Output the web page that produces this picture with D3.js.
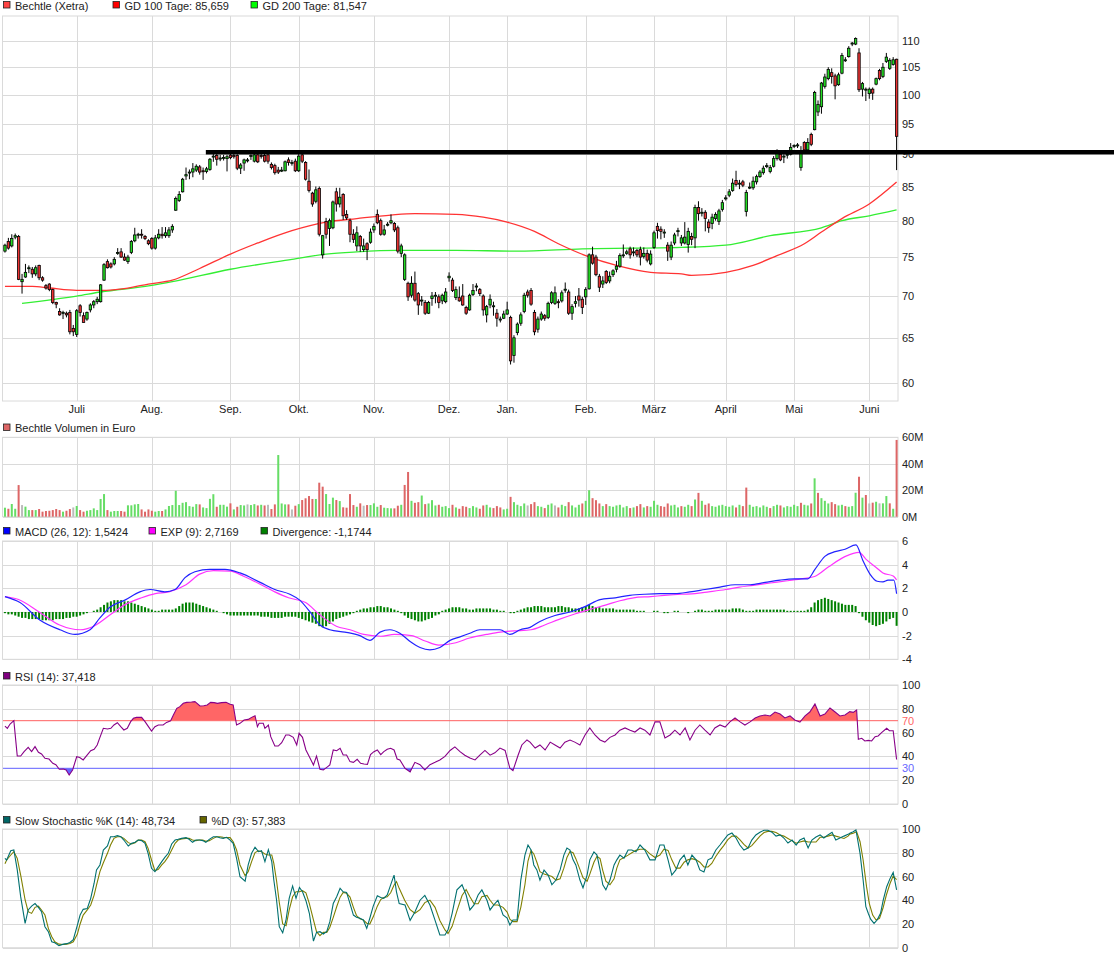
<!DOCTYPE html>
<html lang="de">
<head>
<meta charset="UTF-8">
<title>Bechtle (Xetra)</title>
<script src="https://d3js.org/d3.v7.min.js"></script>
<style>
  body { margin: 0; background: #fff; }
  svg text { font-family: "Liberation Sans", Arial, sans-serif; font-size: 11px; fill: #222; }
</style>
</head>
<body>
<div id="chart"></div>
<script>
// --- daily candles (trading day index 0..261, Juni 2018 - Juni 2019) ---
const opens = [
  75.8,77.1,76.5,77.7,77.8,71.8,72.4,73.5,73.4,72.8,
  73.9,72.3,71.3,71.5,70.8,69.2,68.1,67.9,67.9,68.0,
  66.1,65.4,68.8,67.6,67.2,68.3,68.9,69.3,69.3,72.0,
  74.4,74.1,74.1,75.5,75.7,75.0,74.4,75.6,77.2,78.0,
  78.1,77.8,77.2,77.5,76.2,77.6,78.1,77.9,77.9,78.7,
  81.5,82.9,84.2,86.6,87.1,87.2,87.5,88.0,87.4,87.3,
  87.6,89.6,89.8,89.3,89.4,89.3,89.85,89.8,89.8,87.8,
  88.6,89.1,89.7,88.9,89.9,89.8,89.8,89.9,88.4,88.2,
  87.5,87.4,87.4,89.1,88.6,88.9,87.4,89.9,88.7,85.8,
  84.0,82.8,84.7,75.3,79.9,78.9,79.0,84.2,82.4,83.8,
  80.9,80.0,78.1,76.5,77.8,76.0,76.8,77.0,78.7,80.9,
  80.0,78.1,79.4,79.7,79.6,79.0,75.5,72.1,71.6,70.1,
  71.6,70.3,69.4,69.2,67.9,69.7,70.0,69.9,69.4,69.3,
  72.3,72.0,69.8,69.8,70.0,68.6,68.3,70.2,71.15,70.8,
  70.0,67.7,68.9,68.7,67.9,67.1,67.3,67.8,67.4,63.0,
  65.6,66.7,68.1,70.5,70.7,68.0,66.0,67.2,67.6,67.4,
  69.2,69.1,69.3,69.4,70.75,70.5,67.9,69.1,70.0,69.6,
  69.9,70.9,75.3,75.0,72.5,71.5,73.1,71.9,72.7,73.4,
  73.8,75.2,75.5,76.1,75.6,75.9,76.0,75.1,75.5,74.1,
  76.3,79.2,78.8,78.3,76.6,75.0,76.9,78.5,76.9,76.9,
  76.7,77.8,77.6,81.9,81.1,81.2,79.8,79.6,80.3,79.9,
  81.6,83.2,83.7,84.4,85.9,85.4,85.7,81.3,84.8,84.8,
  85.7,86.5,87.1,88.1,87.3,88.1,89.3,90.0,89.6,89.9,
  90.0,91.3,91.4,87.9,91.9,90.7,93.2,94.0,97.0,97.9,
  101.5,102.9,104.0,103.4,101.8,103.9,106.3,107.0,109.5,109.4,
  107.7,101.0,100.9,100.2,101.0,101.9,104.4,103.3,106.1,104.8,105.5,106.5
];
const highs = [
  76.8,77.6,78.1,78.2,78.0,72.8,74.1,73.9,73.7,73.9,
  74.0,72.5,71.5,71.6,70.9,69.3,68.5,68.2,68.1,68.3,
  66.5,68.4,69.0,68.0,68.1,69.1,69.5,69.9,71.5,74.2,
  74.7,74.3,75.0,76.2,76.2,75.5,75.3,77.3,79.0,78.3,
  78.8,78.0,77.4,77.7,78.0,78.8,79.1,79.1,79.1,79.5,
  83.5,84.3,86.3,87.9,87.6,88.6,88.4,88.3,87.9,88.0,
  89.4,90.2,90.2,89.9,89.9,89.9,90.1,90.1,90.0,88.6,
  89.3,89.4,90.0,90.1,90.1,90.1,90.1,90.1,88.7,88.5,
  88.0,88.0,89.0,89.5,89.1,89.3,90.2,90.5,88.9,87.6,
  84.2,85.0,85.0,78.0,80.4,80.3,82.9,84.8,84.8,84.0,
  81.5,80.3,78.8,79.2,78.0,77.5,77.0,78.9,79.6,81.6,
  80.3,79.4,79.8,80.9,79.8,79.3,76.8,75.5,71.8,72.5,
  73.1,70.5,70.0,69.5,69.4,70.5,70.5,70.2,70.3,71.0,
  73.0,72.3,71.2,71.2,71.5,68.8,70.3,71.5,71.6,71.0,
  70.2,68.9,70.2,69.3,68.4,67.5,68.2,69.3,67.6,65.3,
  66.8,68.0,70.4,70.8,71.0,68.3,67.5,68.1,67.8,69.3,
  70.6,71.2,69.6,70.7,71.7,70.8,69.0,70.0,71.0,69.9,
  71.1,75.5,76.4,75.3,72.8,72.5,73.3,73.1,73.4,74.5,
  75.5,76.7,76.0,76.4,76.3,76.1,76.4,76.3,76.0,75.9,
  78.6,79.7,79.2,78.8,77.0,77.1,78.3,79.0,78.0,79.8,
  79.0,78.3,82.3,82.8,81.8,81.5,80.2,81.0,81.2,81.7,
  83.0,83.7,84.6,86.2,87.4,86.0,86.0,84.5,85.6,86.5,
  86.8,87.5,88.2,88.6,88.3,89.7,90.8,90.3,90.0,90.4,
  91.8,91.6,91.8,91.3,92.1,92.6,93.5,100.7,99.0,102.3,
  103.8,105.0,104.8,103.8,104.0,107.7,106.9,109.0,109.8,110.7,
  108.6,102.3,101.3,101.3,101.3,103.1,104.7,105.8,107.7,106.7,106.9,106.6
];
const lows = [
  75.6,76.0,76.3,77.4,72.0,70.3,72.3,72.9,72.3,72.5,
  72.0,71.8,70.8,70.6,69.0,68.5,67.6,67.2,67.4,65.4,
  65.2,65.1,67.5,66.8,67.0,68.0,68.5,69.0,69.2,71.9,
  73.5,73.5,73.9,75.3,74.9,74.5,74.1,75.4,77.0,77.5,
  77.5,77.3,76.6,76.0,76.0,77.4,77.5,77.6,77.6,78.3,
  81.4,82.7,84.1,86.0,86.1,86.4,87.2,86.8,86.0,87.0,
  87.4,88.8,88.2,88.9,89.0,87.3,89.2,89.3,87.5,86.9,
  87.4,88.7,89.1,88.7,88.6,89.3,88.7,88.5,87.6,86.8,
  86.9,87.2,87.3,88.2,88.2,87.2,87.2,88.6,85.9,84.1,
  82.0,82.5,77.8,74.8,77.5,76.5,78.8,81.3,81.9,80.1,
  80.1,77.0,76.9,75.8,75.7,75.7,74.6,76.8,78.3,79.5,
  77.9,77.9,79.2,79.5,78.4,75.5,75.0,71.9,69.4,69.8,
  69.3,67.7,68.8,67.7,67.8,68.8,69.1,68.5,69.0,69.1,
  71.8,70.5,69.5,69.3,68.8,67.7,68.2,70.0,70.6,70.0,
  67.6,66.8,68.5,67.6,66.3,66.8,67.2,67.7,62.0,62.2,
  65.3,66.4,67.9,69.8,68.8,65.3,65.6,67.0,67.0,67.2,
  69.0,68.9,68.5,69.2,70.4,67.7,67.1,68.6,68.7,67.8,
  68.9,70.8,74.0,72.5,70.5,71.0,71.5,71.6,72.4,73.0,
  73.6,74.9,75.3,74.8,75.1,75.0,73.9,74.8,74.3,73.9,
  76.1,77.5,77.4,77.6,74.5,74.6,76.6,77.8,76.5,76.7,
  75.6,76.6,76.2,80.0,80.6,78.5,78.3,78.8,80.0,79.4,
  81.3,82.9,83.4,84.2,85.0,84.6,84.9,80.6,84.6,84.5,
  85.3,86.3,86.8,87.8,87.0,87.9,89.0,88.9,88.6,89.3,
  89.8,91.0,91.0,87.4,90.3,90.5,91.3,93.9,96.3,96.7,
  101.1,102.6,102.0,99.2,101.6,103.7,106.0,106.8,109.0,109.2,
  100.5,99.7,98.9,99.3,99.1,101.7,102.6,103.0,105.8,104.5,105.3,87.5
];
const closes = [
  76.6,76.2,77.5,77.9,72.1,72.1,73.0,73.6,72.8,73.6,
  72.3,72.0,71.0,70.8,69.2,69.0,67.7,68.0,67.7,65.7,
  65.7,68.2,68.0,66.8,68.0,68.9,69.3,69.6,71.4,74.0,
  73.6,73.7,74.7,75.6,75.0,74.6,75.0,77.1,78.0,78.1,
  78.0,77.5,76.8,76.2,77.6,78.1,77.9,78.3,78.7,79.2,
  83.2,83.8,86.1,86.8,87.2,87.7,88.1,87.2,87.3,87.7,
  89.2,89.7,89.2,89.4,89.5,89.6,89.45,89.6,87.8,88.3,
  89.1,89.1,89.8,89.9,88.8,89.7,88.9,88.9,87.9,87.1,
  87.2,87.5,88.8,88.7,88.7,87.4,89.7,88.9,86.1,84.4,
  82.4,84.5,78.1,77.9,78.1,80.0,82.7,82.4,83.4,80.7,
  80.4,78.1,77.4,78.3,76.5,76.5,76.0,78.4,79.2,79.7,
  78.1,78.7,79.5,80.0,78.7,75.8,76.5,75.3,69.9,71.6,
  69.5,68.9,69.5,67.9,69.2,70.0,70.1,69.2,70.1,70.5,
  72.5,70.7,70.8,69.4,68.9,67.9,70.1,70.7,71.25,70.3,
  68.3,68.7,69.6,68.8,67.3,67.2,67.8,68.3,62.4,65.0,
  66.6,67.7,70.1,70.1,69.0,65.7,67.2,67.8,67.3,69.1,
  70.4,70.4,69.2,70.4,70.85,67.9,68.7,69.3,69.5,68.6,
  70.8,75.3,74.2,72.7,71.1,71.9,71.7,72.5,73.2,73.8,
  75.2,75.3,75.7,75.3,75.7,75.3,75.0,75.5,74.6,75.4,
  78.3,78.6,78.5,78.4,75.8,76.6,78.0,78.6,77.6,77.7,
  78.5,77.4,81.9,81.0,81.2,80.3,79.0,80.5,80.9,81.4,
  82.6,83.3,84.2,85.5,85.3,85.5,85.2,84.1,84.9,85.8,
  86.5,87.2,87.8,88.2,87.9,89.3,90.1,89.1,89.7,90.0,
  91.1,91.4,91.5,90.4,90.7,91.9,91.6,100.4,98.3,102.1,
  103.2,104.6,103.3,101.6,103.6,107.2,106.4,108.6,109.6,110.5,
  100.9,102.0,101.0,101.0,100.3,102.9,102.9,105.0,106.9,106.3,106.4,92.9
];
// volume in million euro
const volumes = [
  6.8,6.0,9.6,6.0,23.9,8.8,7.6,5.0,5.0,5.0,
  5.8,3.8,4.3,4.5,5.0,5.8,5.0,3.8,4.5,5.8,
  7.0,8.1,5.0,3.8,4.5,5.0,6.3,5.0,13.4,17.1,
  5.0,3.8,4.3,4.3,4.3,3.8,8.6,8.6,9.3,9.6,
  5.5,3.8,5.5,4.5,3.8,4.3,4.3,5.5,8.1,8.8,
  19.6,8.8,10.5,11.0,8.0,7.5,9.5,9.3,7.0,6.5,
  13.5,17.0,7.5,9.0,9.0,7.6,10.1,5.5,7.5,8.8,
  8.5,9.3,8.8,9.5,8.5,9.0,8.5,9.0,5.8,9.3,
  46.6,10.0,9.3,9.3,5.5,8.3,9.5,12.6,13.9,15.6,
  13.4,13.4,25.7,22.7,17.1,9.6,14.4,12.6,11.8,7.1,
  6.8,17.1,8.8,7.5,10.1,8.3,8.8,8.8,10.1,7.5,
  8.8,6.8,6.5,6.3,6.3,8.3,9.0,24.0,33.8,12.0,
  10.5,11.0,16.0,9.5,10.0,12.5,8.5,9.0,7.5,8.0,
  6.5,9.0,7.0,6.0,8.0,7.5,6.5,8.0,7.0,6.0,
  8.5,9.0,7.0,6.5,8.0,7.0,5.5,6.0,15.0,11.0,
  9.0,8.0,10.0,8.5,9.5,11.0,8.0,7.5,6.5,9.0,
  10.0,8.5,7.0,9.0,8.0,11.0,8.5,7.0,9.0,10.0,
  12.0,20.0,14.0,12.5,10.0,8.0,9.5,8.0,7.5,8.5,
  9.0,7.0,8.0,6.5,7.0,8.0,9.5,7.0,8.0,7.5,
  12.0,9.0,8.0,7.5,10.0,8.5,9.0,7.0,8.0,7.5,
  9.0,8.0,13.0,18.0,12.0,9.0,10.0,8.0,7.5,8.5,
  9.0,8.0,7.5,8.5,7.0,9.0,8.0,22.0,9.0,7.5,
  8.0,7.0,8.5,7.5,6.5,8.0,9.0,8.5,7.0,8.0,
  7.5,9.0,8.0,10.5,9.0,8.5,10.0,29.0,18.0,14.0,
  12.0,10.0,11.0,9.5,8.5,9.0,8.0,7.5,8.0,18.1,
  30.2,14.4,16.4,10.0,10.6,11.3,10.1,10.1,15.6,10.1,6.0,58.0
];

// moving averages, read at sample days
const gd100Days = [0,8,13,21,28,36,42,49,57,66,74,84,94,103,113,120,132,140,147,155,162,170,179,189,198,201,211,219,226,234,239,245,253,261];
const gd100Vals = [71.2,71.2,71.0,70.7,70.7,71.0,71.5,72.0,73.5,75.4,76.9,78.6,79.8,80.3,80.8,81.0,80.9,80.5,79.8,78.5,76.8,75.2,73.9,73.0,72.8,72.6,73.0,73.9,75.2,76.8,78.4,80.3,82.4,85.66];
const gd200Days = [5,21,28,42.5,49,66,84,94,103,115,132,150,169,198,211,224,239,245,253,261];
const gd200Vals = [69.1,70.0,70.5,71.3,71.8,73.4,74.7,75.4,75.7,75.9,75.9,75.8,76.1,76.3,76.6,77.9,79.0,80.0,80.7,81.55];

// MACD panel
const macdDays = [0,4.4,10.3,16.1,20.5,24.9,27.8,30.7,35.1,39.5,42.5,46.8,49.8,52.7,55.6,60,64.4,68.8,74.7,79,83.4,86.3,89.3,92.2,95.1,99.5,103.9,106.8,109.8,112.7,115.6,118.6,121.5,124.4,127.3,130.3,133.2,136.1,139,142,144.9,147.8,150.8,153.7,156.6,161,165.4,169.8,174.2,178.6,182.9,187.3,191.7,196.1,200.5,204.9,209.3,213.7,218.1,222.5,226.9,231.2,235,237.1,240,243,245.9,249.1,251.2,253.2,255.3,257,258.5,260.2,261];
const macdVals = [1.3,0.8,-0.7,-1.5,-1.9,-1.5,-0.5,0.4,1.0,1.7,1.9,1.7,1.9,2.9,3.4,3.6,3.6,3.3,2.5,1.9,1.5,1.0,0,-1.1,-1.5,-1.7,-2.0,-2.4,-1.7,-1.5,-1.8,-2.5,-3.0,-3.2,-3.0,-2.4,-2.1,-1.8,-1.5,-1.5,-1.5,-1.9,-1.5,-1.3,-0.8,-0.3,0,0.45,1.05,1.2,1.4,1.5,1.55,1.55,1.7,1.9,2.1,2.3,2.3,2.5,2.7,2.8,2.8,3.6,4.7,5.1,5.3,5.67,4.3,3.2,2.6,2.55,2.7,2.7,1.54];
const expDays = [0,4,10,16,22,26,31,35,40,44,48,53,57,61,66,70,75,79,83,88,92,97,101,105,110,114,119,123,127,132,136,141,145,149,154,158,162,167,171,176,180,184,189,193,198,202,206,211,215,219,224,228,233,237,241,246,250,252,255,257,260,261];
const expVals = [1.3,1.05,0,-1.1,-1.5,-1.2,-0.2,0.6,1.2,1.55,1.7,2.3,3.2,3.5,3.45,3.0,2.3,1.7,1.2,0.8,-0.2,-1.2,-1.5,-1.9,-2.05,-1.9,-2.0,-2.45,-2.8,-2.6,-2.2,-1.9,-1.7,-1.6,-1.5,-1.1,-0.65,-0.15,0.2,0.6,0.95,1.2,1.3,1.4,1.5,1.55,1.7,1.9,2.1,2.25,2.45,2.6,2.8,3.0,3.8,4.7,5.04,4.47,3.76,3.3,3.04,2.72];
const divergence = [
  -0.1,-0.2,-0.2,-0.3,-0.4,-0.5,-0.5,-0.6,-0.6,-0.6,-0.6,
  -0.7,-0.7,-0.7,-0.7,-0.6,-0.6,-0.6,-0.5,-0.5,-0.4,
  -0.4,-0.3,-0.2,-0.1,0,0.1,0.2,
  0.4,0.6,0.8,0.9,1.0,1.0,1.0,0.9,0.9,0.8,0.7,0.6,0.5,
  0.4,0.3,0.2,0.1,0.1,0.2,0.2,0.2,0.2,0.3,
  0.5,0.7,0.8,0.8,0.8,0.7,0.6,0.5,0.4,0.3,
  0.2,0.1,0,-0.1,-0.2,-0.3,
  -0.3,-0.3,-0.3,-0.3,-0.3,-0.3,-0.3,-0.3,-0.4,-0.4,-0.4,-0.5,-0.5,-0.5,-0.5,-0.4,-0.4,-0.4,-0.4,-0.5,
  -0.6,-0.7,-0.8,-0.9,-1.0,-1.2,-1.3,-1.2,-1.0,-0.8,-0.6,
  -0.5,-0.4,-0.3,-0.2,-0.1,0.1,0.2,0.3,0.3,0.4,0.4,
  0.5,0.5,0.4,0.4,0.3,0.2,0.1,
  -0.1,-0.3,-0.5,-0.6,-0.7,-0.8,-0.8,-0.7,-0.6,-0.5,-0.3,-0.2,
  0.1,0.2,0.3,0.4,0.4,0.4,0.3,0.3,0.2,0.2,0.3,0.3,0.3,
  0.3,0.3,0.2,0.2,0.1,0.1,0,-0.1,-0.1,
  0.1,0.2,0.3,0.4,0.4,0.5,0.5,0.5,0.4,0.4,0.4,0.4,0.5,0.5,0.4,0.4,0.3,0.3,0.3,0.4,0.5,0.6,0.5,0.4,0.4,0.3,
  0.3,0.3,0.3,0.2,0.2,0.2,0.2,0.2,0.2,0.1,0.1,0.1,0.0,0.0,0.1,
  0.1,0.0,-0.1,-0.1,0.0,0.1,0.1,0.0,0.0,-0.1,0.0,0.1,0.2,0.2,0.1,
  0.1,0.1,0.2,0.2,0.2,0.2,0.2,0.3,0.3,0.3,0.2,0.1,0.1,0.1,0.2,0.2,0.2,0.2,0.2,0.2,0.2,0.2,0.2,0.1,0.1,0.1,0.1,0.1,0.1,0.2,
  0.4,0.8,1.0,1.1,1.2,1.1,1.0,0.9,0.8,0.7,0.6,
  0.6,0.6,0.5,-0.1,-0.4,-0.7,-0.9,-1.1,-1.2,-1.1,-1.0,-0.8,-0.6,-0.5,-1.17
];

// RSI (14)
const rsiDays = [0,0.7,1.5,2.6,3.6,4.6,5.6,6.8,7.8,8.8,9.8,10.7,11.7,12.9,14,14.9,15.9,17.1,17.9,18.8,19.8,21,21.9,22.9,24.1,25.1,26.1,27,27.8,28.8,30,31,31.9,32.9,33.9,34.8,35.8,36.8,37.6,38.5,40,41,42,42.9,43.9,44.9,46.3,47.3,48.5,49.3,50.3,51.2,52.2,53.2,54.6,55.6,57.1,58.2,59.2,60.2,61.2,62.2,63.4,64.7,65.9,66.8,67.8,68.8,70,71.2,72.2,73.2,73.9,74.4,75.6,76.1,77.1,77.8,79,80,81,82.2,83.2,84.4,85.4,86.1,87.1,88.1,89.1,90.3,91.2,92.2,93.2,94.2,95.1,96.1,97.1,98.1,99,100,101,102,103.1,104.1,105.1,106.1,107,108,109,110,110.9,111.9,112.9,113.9,114.8,
  115.6,117.1,118.6,120,121.5,122.9,124.4,125.9,127.3,128.8,130.3,131.7,133.2,134.6,136.1,137.6,139,140.5,142,143.4,144.9,146.4,147.8,148.7,150.2,151.3,152.8,153.7,155.2,156.6,158.1,159.6,161,162.5,163.9,165.4,166.8,168.3,169.8,171.2,172.7,174.2,175.6,177.1,178.6,180,181.5,183,184.4,185.9,187.3,188.8,190.3,191.7,193.2,194.7,196.1,197.6,199.1,200.5,202,203.4,204.9,206.4,207.8,209.3,210.8,212.2,213.7,215.2,216.6,218.1,219.6,221,222.5,224,225.4,226.9,228.3,229.8,231.2,232.7,234.2,235.6,237.1,238.6,240,241.5,243,244.4,245.9,247.3,248.3,249.3,249.8,250.8,251.7,252.7,253.7,254.7,255.6,256.6,258.1,258.9,260,261];
const rsiVals = [65.5,63.6,67.2,70,40.3,40.3,44,47.6,44,48.2,43.4,42,38.4,37.8,34.2,33,29.2,29.4,28.6,24.4,28.6,39.7,39.1,37,41.2,44.8,46,49.6,56,63.6,63,63.6,66.4,68.3,65,62.2,63.6,69.2,72,72.8,72.8,69.2,65,61.3,65,66.4,66.4,68.6,70,74.8,80.4,81.8,84.6,85.4,85.7,86,82.4,82.6,83.2,85.4,85.2,84.6,85.2,85.4,83.8,83.2,66.4,67.8,70.6,71.1,72.8,74.2,65,67.8,67.8,63.6,66.4,56.6,48.7,48.7,51.5,58,58,56,49.6,59.4,56,45.4,39.7,32.8,40.3,29.2,28.6,30.8,32.8,45.4,44.8,46.8,41.2,41.2,35.6,35,37.5,34.2,33.6,33.3,41.5,44,45.4,41.5,44,46,46.8,45.4,37.8,
  37,30,27,35,33,28.6,33,35,37,40,45,48,44,41,38.6,37,41,45,41,43,47,45,30,28,41,49.6,53.8,52,47,49.6,45.4,52,49.6,47,52,53.8,52,49.6,58,63.9,58,53.8,52,56,58,62,63.9,62,60.5,63.9,62,58,69,69,55.5,58,62,58,63.9,53.8,62,66.4,62,58,63.9,66.4,64.7,69,72.3,69,66.4,69,72.3,74,74.8,74,77.3,75.6,72.3,74,70.6,68.9,74,77.3,84,74,75.6,80.7,77.3,74,74.8,77.6,77,79,54.4,55.2,53,53.5,53,56.6,57.2,60,63.6,61.6,61.6,37.4];

// Slow Stochastic %K (14) and %D (3)
const kDays = [0,0.5,1.7,2.6,3.6,4.6,5.9,6.8,7.8,8.8,9.8,10.7,11.7,12.7,13.7,14.6,15.8,17.1,18.1,19,20,21.2,22,22.9,24.1,25.1,26.1,26.8,27.8,28.8,30,30.9,31.9,32.9,33.9,34.8,36.1,37.1,38.1,39,40,41,41.9,42.9,43.9,44.9,45.9,46.8,47.8,48.8,49.8,50.7,51.7,53,53.9,54.9,55.9,56.9,57.9,58.8,59.8,61,62,62.9,63.9,64.9,65.9,66.8,67.8,68.8,70.3,71.2,72.2,73.2,74.2,75.1,76.1,77.1,78.1,78.7,79.5,80.3,81.3,82.3,83.2,84.2,85.2,86.2,87.1,88.1,89.1,90.3,91.2,92.2,93.2,94.2,95.1,96.1,97.1,98.1,99,100,101,102,102.9,103.9,104.9,105.9,106.8,107.8,109,110,110.9,111.9,112.9,113.9,114.6,115.4,
  117.1,118.6,120,121.5,122.9,124.4,125.9,127.3,128.8,129.7,130.9,132.3,133.8,135,136.1,137.3,138.5,139.6,141.1,142,143.1,144.3,145.8,147,147.8,148.7,149.9,151,152.2,153.1,154,154.8,155.7,156.6,157.8,159,160.1,161.3,162.5,163.6,164.5,165.4,166.3,167.1,168.3,169.2,170.4,171.2,172.4,173.3,174.2,175,175.9,177.1,178.3,179.1,180,181.2,182.4,183.5,184.7,185.9,187.3,188.8,190.3,191.7,192.9,194.1,195.2,196.4,197.6,198.8,199.9,201.1,202.3,203.4,204.6,205.8,206.9,208.1,209.3,210.4,211.6,212.8,214,215.1,216.3,217.5,218.6,219.8,221,222.2,223.3,224.5,225.7,226.9,228,229.2,230.4,231.6,232.7,233.9,235.1,236.2,237.4,238.6,239.7,240.9,242.1,243.2,244.4,245.6,246.8,247.3,248.3,249.1,250.3,251.2,252,252.7,253.4,254.4,255.3,256.3,257.1,258.1,259.1,260,261];
const kVals = [75.3,73.9,81.7,82.3,65.5,43,20.5,31.8,35,37.2,34,30.3,17.7,13.5,5,4.2,1.7,3,3.4,4.4,6.7,19.1,27.5,32.3,33,41.6,54.3,65.5,69.7,82.3,85.7,93.5,93.5,94.4,93.5,90.7,85.7,87.9,88.8,90.7,90.2,87.9,79.5,66.9,64.1,68.3,72.5,76.1,79.5,87.4,90.7,91.3,92.1,92.7,91.3,88.8,90.7,90.7,90.2,88.8,91.3,93.5,93.5,92.7,92.1,93,90.7,87.9,75.3,59.8,56.1,69.7,79.5,84.6,80.9,81.7,72.5,82.6,72.5,57,40.2,17.7,12.6,23.9,41.6,52,41.6,50.8,47.1,39.6,29,5.6,12.9,13.5,11.5,13.8,21.9,37.2,42.9,50,47.1,46.6,37.2,27.5,25.6,24.8,23.4,16.3,24.8,35,43.7,42.3,41.6,44.4,52.9,61.2,47.1,37.2,
  36,23,30,40,44,36,23,10.7,10.7,15,29,48.7,53,44.4,31.8,36,44.4,48.7,40,31.8,36,40,27.6,25,19.1,23.3,23.3,57,78,86.5,82.3,69.7,65.5,57,65.5,61.2,53,57,65.5,78,84,82.3,74,69.7,57,50.5,61.2,74,80.7,78,65.5,53,48.7,57,69.7,74,78,75.5,82.3,82.3,80.7,86.5,82.3,74,74,86.5,86.5,74,61.2,65.5,74,78,69.7,78,74,65.5,63.8,74,75.5,82.3,86.5,90.7,95,96.6,92.4,86.5,82.3,84,90.7,95,97.3,99,99,97.3,94,95,92.4,88.2,90.7,86.5,90.7,92.4,84,90.7,93.2,95,92.4,95,97.3,90.7,92.4,94,95.5,96.4,97.7,99.2,79.5,57,34.5,29,24,20.5,23.3,29,40.2,51.4,58.4,63.5,48.7];
const dDays = [0,0.5,1.7,2.6,3.6,4.6,5.9,6.8,7.8,8.8,9.8,10.7,11.7,12.7,13.7,14.6,15.8,17.1,18.1,19,20,21.2,22,22.9,24.1,25.1,26.1,26.8,27.8,28.8,30,30.9,31.9,32.9,33.9,34.8,36.1,37.1,38.1,39,40,41,41.9,42.9,43.9,44.9,45.9,46.8,47.8,48.8,49.8,50.7,51.7,53,53.9,54.9,55.9,56.9,57.9,58.8,59.8,61,62,62.9,63.9,64.9,65.9,66.8,67.8,68.8,70.3,71.2,72.2,73.2,74.2,75.1,76.1,77.1,78.1,78.7,79.5,80.3,81.3,82.3,83.2,84.2,85.2,86.2,87.1,88.1,89.1,90.3,91.2,92.2,93.2,94.2,95.1,96.1,97.1,98.1,99,100,101,102,102.9,103.9,104.9,105.9,106.8,107.8,109,110,110.9,111.9,112.9,113.9,114.6,115.4,
  117,118.6,120,121.5,122.9,124.4,125.9,127.3,128.8,129.7,130.9,132.3,133.8,135,136.1,137.3,138.5,139.6,141.1,142,143.1,144.3,145.8,147,147.8,148.7,149.9,151,152.2,153.1,154,154.8,155.7,156.6,157.8,159,160.1,161.3,162.5,163.6,164.5,165.4,166.3,167.1,168.3,169.2,170.4,171.2,172.4,173.3,174.2,175,175.9,177.1,178.3,179.1,180,181.2,182.4,183.5,184.7,185.9,187.3,188.8,190.3,191.7,192.9,194.1,195.2,196.4,197.6,198.8,199.9,201.1,202.3,203.4,204.6,205.8,206.9,208.1,209.3,210.4,211.6,212.8,214,215.1,216.3,217.5,218.6,219.8,221,222.2,223.3,224.5,225.7,226.9,228,229.2,230.4,231.6,232.7,233.9,235.1,236.2,237.4,238.6,239.7,240.9,242.1,243.2,244.4,245.6,246.8,247.3,248.3,249.3,250.3,251.2,252.2,253,254,255,256,257,258,259.1,260,261];
const dVals = [70.8,73.9,78.1,80.9,75.3,61.2,40.2,30.3,28.9,34,35,31.8,27.5,16.3,9.3,5,3,2.7,3,3.6,5,11.5,20,27.5,31.8,36,44.3,52.7,64.1,71.6,79.5,86.5,92.1,93.5,93.5,92.1,88.5,87.4,88.5,90.7,90.7,89.3,83.7,73.9,64.9,66,69.7,72.5,76.7,82.3,87.9,90.7,91.6,92.1,92.1,90.7,90.2,90.7,90.7,89.6,90.2,92.1,93.5,93.5,93,92.7,92.7,89.3,82.3,69.7,60.7,64.1,72.5,80.1,81.7,80.9,78.9,78.1,78.1,71,56.4,38.1,20,18.6,31.8,42.9,47.1,47.1,48,46.3,37.2,23.4,13.5,10.2,12.9,12.9,17.2,25.6,34.5,42.6,46.6,45.8,42.6,34,27.1,24.4,23.4,20.6,19.9,26,35,40.6,42.3,42.9,46.3,52.9,55.7,50,
  40,32,29,32,38,40,34,23,15,12,18,31,44,49,43,37,37,43,44,40,36,36,34,30,24,22,22,34,53,73,82,79,72,64,62,61,60,57,58,67,76,81,80,75,66,59,56,62,72,77,75,65,56,53,58,67,74,76,78,80,82,83,83,79,76,78,83,82,74,67,67,72,74,75,74,72,68,68,71,77,82,86,91,94,94,91,87,84,86,90,94,97,98,98,97,95,94,92,90,88,89,90,89,89,89,93,93,94,95,94,93,92,94,95.7,96.4,97.7,89.3,73.9,51.4,37.4,27.5,23.3,24.8,33.2,44.4,54.3,60.4,57.4];

// axes / annotations
const monthTicks = [21,43,66,86,108,130,147,170,190,211,231,253];
const monthLabels = ["Juli","Aug.","Sep.","Okt.","Nov.","Dez.","Jan.","Feb.","März","April","Mai","Juni"];
const priceTicks = [60,65,70,75,80,85,90,95,100,105,110];
const volTicks = [0,20,40,60];
const macdTicks = [-4,-2,0,2,4,6];
const rsiTicks = [0,20,30,40,60,70,80,100];
const stochTicks = [0,20,40,60,80,100];
const supportLevel = 90.3;
const supportStartDay = 58.8;

const W = 1114, H = 958;
const L = 3, R = 898;
const gridColor = "#dadada";

const svg = d3.select("#chart").append("svg")
  .attr("width", W).attr("height", H)
  .style("display", "block");

svg.append("rect").attr("width", W).attr("height", H).attr("fill", "#fff");

const x = d3.scaleLinear().domain([0, opens.length - 1]).range([4.96, 896.6]);

const yP = d3.scaleLog().domain([60, 110]).range([383, 41]);
const yV = d3.scaleLinear().domain([0, 60]).range([516.7, 437.3]);
const yM = d3.scaleLinear().domain([-4, 6]).range([659.3, 541]);
const yR = d3.scaleLinear().domain([0, 100]).range([804, 685]);
const yS = d3.scaleLinear().domain([0, 100]).range([947.7, 829]);

function panel(top, bottom, y, ticks, fmt, colorFn, skipGrid) {
  const g = svg.append("g");
  // horizontal grid
  g.selectAll("line.h").data(ticks.filter(t => !(skipGrid || []).includes(t)))
    .join("line")
    .attr("x1", L).attr("x2", R)
    .attr("y1", d => Math.round(y(d)) + 0.5).attr("y2", d => Math.round(y(d)) + 0.5)
    .attr("stroke", gridColor);
  // vertical month grid
  g.selectAll("line.v").data(monthTicks)
    .join("line")
    .attr("x1", d => Math.round(x(d)) + 0.5).attr("x2", d => Math.round(x(d)) + 0.5)
    .attr("y1", top).attr("y2", bottom)
    .attr("stroke", gridColor);
  // frame
  g.append("rect")
    .attr("x", L - 0.5).attr("y", top)
    .attr("width", R - L + 0.5).attr("height", bottom - top)
    .attr("fill", "none").attr("stroke", gridColor);

  const ax = svg.append("g")
    .attr("transform", `translate(${R},0)`)
    .call(d3.axisRight(y).tickValues(ticks).tickSize(0).tickPadding(4).tickFormat(fmt));
  ax.select(".domain").remove();
  ax.selectAll("text")
    .attr("font-family", '"Liberation Sans", Arial, sans-serif')
    .attr("font-size", 11)
    .style("fill", d => colorFn ? colorFn(d) : "#222");
}

function legend(baseline, items) {
  items.forEach(it => {
    svg.append("rect")
      .attr("x", it.x).attr("y", baseline - 8)
      .attr("width", 6.5).attr("height", 6.5)
      .attr("fill", it.color).attr("stroke", "#222").attr("stroke-width", 0.8);
    svg.append("text").attr("x", it.x + 11.5).attr("y", baseline).text(it.text);
  });
}

// ---------- main price panel ----------
panel(16, 401, yP, priceTicks, d => d);

const gdLine = d3.line().x(d => x(d[0])).y(d => yP(d[1])).curve(d3.curveMonotoneX);
svg.append("path")
  .attr("d", gdLine(gd200Days.map((d, i) => [d, gd200Vals[i]])))
  .attr("fill", "none").attr("stroke", "#33ee33").attr("stroke-width", 1.3);
svg.append("path")
  .attr("d", gdLine(gd100Days.map((d, i) => [d, gd100Vals[i]])))
  .attr("fill", "none").attr("stroke", "#ff3333").attr("stroke-width", 1.3);

const candles = opens.map((o, i) => ({ i, o, h: highs[i], l: lows[i], c: closes[i] }));
svg.append("g").selectAll("line").data(candles).join("line")
  .attr("x1", d => x(d.i)).attr("x2", d => x(d.i))
  .attr("y1", d => yP(d.h)).attr("y2", d => yP(d.l))
  .attr("stroke", "#000").attr("stroke-width", 1);
svg.append("g").selectAll("rect").data(candles).join("rect")
  .attr("x", d => x(d.i) - 1.2)
  .attr("y", d => yP(Math.max(d.o, d.c)))
  .attr("width", 2.4)
  .attr("height", d => Math.max(1, Math.abs(yP(d.o) - yP(d.c))))
  .attr("fill", d => d.c >= d.o ? "#22dd22" : "#ee3333")
  .attr("stroke", "#000").attr("stroke-width", 0.8);

svg.append("line")
  .attr("x1", x(supportStartDay)).attr("x2", W)
  .attr("y1", yP(supportLevel)).attr("y2", yP(supportLevel))
  .attr("stroke", "#000").attr("stroke-width", 4.5);

svg.selectAll("text.month").data(monthTicks).join("text")
  .attr("class", "month")
  .attr("x", d => x(d)).attr("y", 413)
  .attr("text-anchor", "middle")
  .text((d, i) => monthLabels[i]);

legend(9.5, [
  { x: 3.5, color: "#ff4444", text: "Bechtle (Xetra)" },
  { x: 113, color: "#ff0000", text: "GD 100 Tage: 85,659" },
  { x: 251, color: "#00ff00", text: "GD 200 Tage: 81,547" }
]);

// ---------- volume ----------
panel(437.3, 516.7, yV, volTicks, d => d + "M");
svg.append("g").selectAll("rect").data(volumes).join("rect")
  .attr("x", (d, i) => x(i) - 1)
  .attr("y", d => yV(d))
  .attr("width", 2)
  .attr("height", d => yV(0) - yV(d))
  .attr("fill", (d, i) => {
    const prev = i === 0 ? opens[0] : closes[i - 1];
    if (closes[i] > prev) return "#66dd66";
    if (closes[i] < prev) return "#dd6666";
    return "#bbbbbb";
  });
legend(432, [{ x: 3.5, color: "#dd6666", text: "Bechtle Volumen in Euro" }]);

// ---------- MACD ----------
panel(541, 659.3, yM, macdTicks, d => d);
svg.append("g").selectAll("rect").data(divergence).join("rect")
  .attr("x", (d, i) => x(i) - 1)
  .attr("y", d => Math.min(yM(0), yM(d)))
  .attr("width", 2)
  .attr("height", d => Math.abs(yM(d) - yM(0)))
  .attr("fill", "#008000");
const mLine = d3.line().x(d => x(d[0])).y(d => yM(d[1])).curve(d3.curveMonotoneX);
svg.append("path")
  .attr("d", mLine(expDays.map((d, i) => [d, expVals[i]])))
  .attr("fill", "none").attr("stroke", "#ff33ff").attr("stroke-width", 1.2);
svg.append("path")
  .attr("d", mLine(macdDays.map((d, i) => [d, macdVals[i]])))
  .attr("fill", "none").attr("stroke", "#2222ff").attr("stroke-width", 1.2);
legend(535.5, [
  { x: 3.5, color: "#0000ff", text: "MACD (26, 12): 1,5424" },
  { x: 149, color: "#ff00ff", text: "EXP (9): 2,7169" },
  { x: 261, color: "#008000", text: "Divergence: -1,1744" }
]);

// ---------- RSI ----------
panel(685, 804, yR, rsiTicks, d => d,
  d => d === 70 ? "#ff6666" : d === 30 ? "#6666ff" : "#222", [30, 70]);
const rsiPts = rsiDays.map((d, i) => [d, rsiVals[i]]);
const defs = svg.append("defs");
defs.append("clipPath").attr("id", "clipHigh").append("rect")
  .attr("x", L).attr("y", 685).attr("width", R - L).attr("height", yR(70) - 685);
defs.append("clipPath").attr("id", "clipLow").append("rect")
  .attr("x", L).attr("y", yR(30)).attr("width", R - L).attr("height", 804 - yR(30));
svg.append("path")
  .attr("d", d3.area().x(d => x(d[0])).y0(yR(70)).y1(d => yR(d[1]))(rsiPts))
  .attr("fill", "#ff6666").attr("clip-path", "url(#clipHigh)");
svg.append("path")
  .attr("d", d3.area().x(d => x(d[0])).y0(yR(30)).y1(d => yR(d[1]))(rsiPts))
  .attr("fill", "#6666ff").attr("clip-path", "url(#clipLow)");
svg.append("line").attr("x1", L).attr("x2", R)
  .attr("y1", yR(70)).attr("y2", yR(70)).attr("stroke", "#ff6666");
svg.append("line").attr("x1", L).attr("x2", R)
  .attr("y1", yR(30)).attr("y2", yR(30)).attr("stroke", "#6666ff");
svg.append("path")
  .attr("d", d3.line().x(d => x(d[0])).y(d => yR(d[1]))(rsiPts))
  .attr("fill", "none").attr("stroke", "#880088").attr("stroke-width", 1.1);
legend(680.5, [{ x: 3.5, color: "#800080", text: "RSI (14): 37,418" }]);

// ---------- Slow Stochastic ----------
panel(829, 947.7, yS, stochTicks, d => d);
const sLine = d3.line().x(d => x(d[0])).y(d => yS(d[1]));
svg.append("path")
  .attr("d", sLine(dDays.map((d, i) => [d, dVals[i]])))
  .attr("fill", "none").attr("stroke", "#808000").attr("stroke-width", 1.1);
svg.append("path")
  .attr("d", sLine(kDays.map((d, i) => [d, kVals[i]])))
  .attr("fill", "none").attr("stroke", "#007070").attr("stroke-width", 1.1);
legend(824.5, [
  { x: 3.5, color: "#006666", text: "Slow Stochastic %K (14): 48,734" },
  { x: 200, color: "#666600", text: "%D (3): 57,383" }
]);
</script>
</body>
</html>
